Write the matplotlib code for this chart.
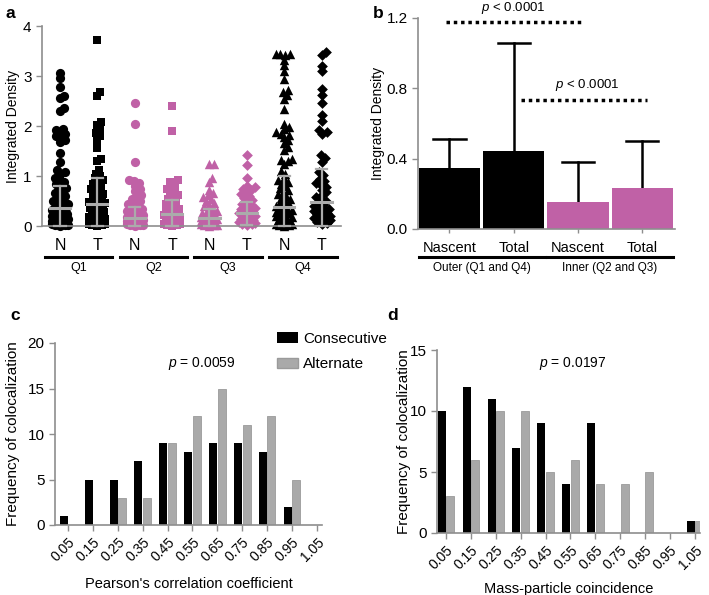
import numpy as np
import matplotlib.pyplot as plt
from matplotlib.patches import Patch
import matplotlib.transforms as mtransforms

plt.rcParams['font.family'] = ['Liberation Sans', 'DejaVu Sans']
plt.rcParams['mathtext.fontset'] = 'custom'
plt.rcParams['mathtext.it'] = 'Liberation Sans:italic'
plt.rcParams['mathtext.rm'] = 'Liberation Sans'

BLACK = '#000000'
PINK = '#C061A6'
LGREY = '#ABABAB'
AXC = '#8E8E8E'

# ---- panel a: integrated density per quadrant (N = nascent, T = total)
quadrants = ['Q1', 'Q2', 'Q3', 'Q4']
a_ticks = ['N', 'T', 'N', 'T', 'N', 'T', 'N', 'T']
q1_n = [3.07, 2.97, 2.78, 2.61, 2.56, 2.36, 2.31, 1.95, 1.92, 1.87, 1.84, 1.81, 1.78,
        1.72, 1.69, 1.47, 1.28, 1.12, 1.08, 1.05, 0.96, 0.93, 0.88, 0.84, 0.80, 0.77,
        0.73, 0.70, 0.66, 0.63, 0.60, 0.56, 0.53, 0.50, 0.47, 0.45, 0.42, 0.39, 0.37,
        0.34, 0.32, 0.29, 0.27, 0.25, 0.22, 0.20, 0.18, 0.16, 0.14, 0.12, 0.10, 0.09,
        0.07, 0.06, 0.05, 0.04, 0.03, 0.02, 0.02, 0.01]
q1_t = [3.73, 2.68, 2.60, 2.08, 2.02, 1.92, 1.86, 1.80, 1.73, 1.56, 1.35, 1.30, 1.12,
        1.05, 1.00, 0.96, 0.92, 0.88, 0.85, 0.81, 0.78, 0.74, 0.71, 0.67, 0.64, 0.61,
        0.58, 0.55, 0.52, 0.49, 0.46, 0.44, 0.41, 0.38, 0.36, 0.33, 0.31, 0.28, 0.26,
        0.24, 0.21, 0.19, 0.17, 0.15, 0.13, 0.11, 0.09, 0.08, 0.06, 0.05, 0.04, 0.03,
        0.02, 0.01]
q2_n = [2.45, 2.05, 1.28, 0.93, 0.90, 0.86, 0.80, 0.74, 0.70, 0.63, 0.58, 0.55, 0.50,
        0.47, 0.44, 0.40, 0.37, 0.35, 0.32, 0.30, 0.27, 0.25, 0.23, 0.21, 0.19, 0.17,
        0.15, 0.13, 0.12, 0.10, 0.09, 0.08, 0.06, 0.05, 0.04, 0.03, 0.02, 0.02, 0.01]
q2_t = [2.40, 1.90, 0.93, 0.88, 0.85, 0.78, 0.74, 0.70, 0.66, 0.62, 0.58, 0.54, 0.50,
        0.47, 0.44, 0.41, 0.38, 0.35, 0.32, 0.30, 0.27, 0.25, 0.23, 0.21, 0.19, 0.17,
        0.15, 0.13, 0.11, 0.10, 0.08, 0.07, 0.05, 0.04, 0.03, 0.02, 0.01]
q3_n = [1.25, 1.25, 0.96, 0.88, 0.72, 0.66, 0.62, 0.58, 0.54, 0.50, 0.46, 0.43, 0.40,
        0.37, 0.34, 0.31, 0.28, 0.26, 0.24, 0.22, 0.20, 0.18, 0.16, 0.14, 0.13, 0.11,
        0.10, 0.08, 0.07, 0.06, 0.05, 0.04, 0.03, 0.02, 0.02, 0.01]
q3_t = [1.43, 1.23, 0.97, 0.80, 0.78, 0.75, 0.72, 0.68, 0.64, 0.60, 0.56, 0.52, 0.48,
        0.45, 0.42, 0.39, 0.36, 0.34, 0.32, 0.30, 0.28, 0.26, 0.24, 0.22, 0.20, 0.18,
        0.16, 0.14, 0.12, 0.11, 0.10, 0.08, 0.07, 0.05, 0.04, 0.03]
q4_n = [3.45, 3.45, 3.44, 3.42, 3.33, 3.22, 3.10, 2.95, 2.72, 2.68, 2.62, 2.55, 2.35,
        2.05, 1.98, 1.94, 1.88, 1.85, 1.82, 1.78, 1.72, 1.66, 1.58, 1.52, 1.35, 1.32,
        1.30, 1.25, 1.10, 1.05, 0.96, 0.92, 0.88, 0.85, 0.80, 0.76, 0.72, 0.68, 0.64,
        0.60, 0.57, 0.54, 0.51, 0.48, 0.45, 0.42, 0.40, 0.37, 0.35, 0.32, 0.30, 0.28,
        0.26, 0.24, 0.22, 0.20, 0.18, 0.16, 0.14, 0.12, 0.11, 0.10, 0.08, 0.07, 0.05,
        0.04, 0.03, 0.02, 0.01]
q4_t = [3.48, 3.42, 3.20, 3.10, 2.75, 2.62, 2.45, 2.23, 2.10, 1.93, 1.88, 1.85, 1.42,
        1.36, 1.28, 1.08, 1.02, 0.95, 0.90, 0.86, 0.82, 0.78, 0.73, 0.68, 0.63, 0.58,
        0.54, 0.50, 0.46, 0.43, 0.40, 0.37, 0.35, 0.32, 0.30, 0.28, 0.26, 0.24, 0.22,
        0.20, 0.18, 0.16, 0.14, 0.12, 0.10, 0.08, 0.06, 0.04]
a_series = [q1_n, q1_t, q2_n, q2_t, q3_n, q3_t, q4_n, q4_t]
a_markers = ['o', 's', 'o', 's', '^', 'D', '^', 'D']
a_colors = [BLACK, BLACK, PINK, PINK, PINK, PINK, BLACK, BLACK]
a_means = [0.36, 0.45, 0.17, 0.25, 0.16, 0.26, 0.38, 0.48]
a_sd_top = [0.81, 0.96, 0.38, 0.53, 0.35, 0.49, 1.01, 1.15]

# ---- panel b: pooled means
b_ticks = ['Nascent', 'Total', 'Nascent', 'Total']
b_groups = ['Outer (Q1 and Q4)', 'Inner (Q2 and Q3)']
b_means = [0.347, 0.445, 0.155, 0.235]
b_err_top = [0.512, 1.06, 0.379, 0.502]
b_colors = [BLACK, BLACK, PINK, PINK]

# ---- panels c, d: histograms
bins = ['0.05', '0.15', '0.25', '0.35', '0.45', '0.55', '0.65', '0.75', '0.85', '0.95', '1.05']
c_consec = [1, 5, 5, 7, 9, 8, 9, 9, 8, 2, 0]
c_alt = [0, 0, 3, 3, 9, 12, 15, 11, 12, 5, 0]
d_consec = [10, 12, 11, 7, 9, 4, 9, 0, 0, 0, 1]
d_alt = [3, 6, 10, 10, 5, 6, 4, 4, 5, 0, 1]


def swarm(vals, xpx, ypx, d=4.6, maxw=8):
    # simple beeswarm: offsets in data units so markers don't pile up
    placed = []
    out_v, out_x = [], []
    cands = [0]
    for k in range(1, maxw + 1):
        cands += [k, -k]
    for v in sorted(vals):
        y = v * ypx
        best, bestd = None, -1
        for c in cands:
            md = min([np.hypot(c - px, y - py) for px, py in placed] or [99])
            if md >= d:
                best = c
                break
            if md > bestd:
                best, bestd = c, md
        placed.append((best, y))
        out_v.append(v)
        out_x.append(best / xpx)
    return out_v, out_x


def style(ax):
    for s in ['top', 'right']:
        ax.spines[s].set_visible(False)
    for s in ['left', 'bottom']:
        ax.spines[s].set_color(AXC)
        ax.spines[s].set_linewidth(1.2)
    ax.tick_params(colors=AXC, labelcolor='black', width=1.0, length=4)


def main():
    fig = plt.figure(figsize=(7.09, 5.95), dpi=100)
    W, H = 709, 595

    # panel a
    ax = fig.add_axes([42 / W, 1 - 226 / H, 299 / W, 200 / H])
    style(ax)
    ax.set_xlim(-0.48, 7.52)
    ax.set_ylim(0, 4)
    xpx = 299 / 8.0
    ypx = 200 / 4.0
    sizes = {'o': 44, 's': 36, '^': 46, 'D': 30}
    for i, vals in enumerate(a_series):
        v, off = swarm(vals, xpx, ypx)
        ax.scatter(i + np.array(off), v, marker=a_markers[i], color=a_colors[i],
                   s=sizes[a_markers[i]], linewidths=0, clip_on=False, zorder=2)
        m, top = a_means[i], a_sd_top[i]
        low = max(m - (top - m), 0)
        ax.plot([i - 0.27, i + 0.27], [m, m], color=LGREY, lw=2.2, zorder=3, clip_on=False)
        ax.plot([i, i], [low, top], color=LGREY, lw=1.6, zorder=3, clip_on=False)
        ax.plot([i - 0.15, i + 0.15], [top, top], color=LGREY, lw=1.6, zorder=3, clip_on=False)
        ax.plot([i - 0.15, i + 0.15], [low, low], color=LGREY, lw=1.6, zorder=3, clip_on=False)
    ax.set_yticks([0, 1, 2, 3, 4])
    ax.set_xticks(range(8))
    ax.set_xticklabels(a_ticks, fontsize=11.5)
    ax.tick_params(axis='y', labelsize=11)
    ax.tick_params(axis='x', length=0, pad=9)
    ax.set_ylabel('Integrated Density', fontsize=10)
    ax.yaxis.set_label_coords(-0.075, 0.5)
    tr = mtransforms.blended_transform_factory(ax.transData, ax.transAxes)
    for g, q in enumerate(quadrants):
        c = 2 * g + 0.5
        ax.plot([c - 0.9, c + 0.9], [-0.155, -0.155], color='black', lw=2.2,
                transform=tr, clip_on=False)
        ax.text(c, -0.21, q, transform=tr, ha='center', va='center', fontsize=9)

    # panel b
    bx = fig.add_axes([418 / W, 1 - 229 / H, 257 / W, 211 / H])
    style(bx)
    x = np.arange(4)
    bx.bar(x, b_means, width=0.95, color=b_colors, zorder=2)
    for i in range(4):
        bx.plot([i, i], [b_means[i], b_err_top[i]], color='black', lw=1.8, zorder=1)
        bx.plot([i - 0.25, i + 0.25], [b_err_top[i], b_err_top[i]], color='black', lw=1.8)
    bx.set_xlim(-0.49, 3.51)
    bx.set_ylim(0, 1.2)
    bx.set_yticks([0, 0.4, 0.8, 1.2])
    bx.set_yticklabels(['0.0', '0.4', '0.8', '1.2'])
    bx.tick_params(axis='y', labelsize=11)
    bx.set_xticks(x)
    bx.set_xticklabels(b_ticks, fontsize=10.5)
    bx.tick_params(axis='x', length=3, pad=6)
    bx.set_ylabel('Integrated Density', fontsize=10)
    bx.yaxis.set_label_coords(-0.13, 0.5)
    trb = mtransforms.blended_transform_factory(bx.transData, bx.transAxes)
    for g, name in enumerate(b_groups):
        c = 2 * g + 0.5
        bx.plot([c - 0.98, c + 0.98], [-0.133, -0.133], color='black', lw=2.2,
                transform=trb, clip_on=False)
        bx.text(c, -0.185, name, transform=trb, ha='center', va='center', fontsize=8.5)
    bx.plot([-0.05, 2.06], [1.175, 1.175], color='black', lw=2.5, ls=(0, (1, 1.1)),
            clip_on=False)
    bx.text(0.99, 1.255, '$p$ < 0.0001', ha='center', va='center', fontsize=9.5)
    bx.plot([1.11, 3.07], [0.733, 0.733], color='black', lw=2.5, ls=(0, (1, 1.1)))
    bx.text(2.14, 0.82, '$p$ < 0.0001', ha='center', va='center', fontsize=9.5)

    # panels c and d
    hist_specs = [
        ([55 / W, 1 - 525 / H, 267 / W, 182 / H], c_consec, c_alt, 20, [0, 5, 10, 15, 20],
         "Pearson's correlation coefficient", '$p$ = 0.0059', (5.38, 17.8), -0.52, -0.13, -0.285),
        ([437 / W, 1 - 533 / H, 263 / W, 183 / H], d_consec, d_alt, 15, [0, 5, 10, 15],
         'Mass-particle coincidence', '$p$ = 0.0197', (5.1, 13.9), -0.36, -0.10, -0.27),
    ]
    for rect, cons, alt, ymax, yt, xl, ptxt, ppos, xmin, ylc, xlc in hist_specs:
        hx = fig.add_axes(rect)
        style(hx)
        xi = np.arange(len(bins))
        hx.bar(xi - 0.17, cons, width=0.32, color='black', zorder=2)
        hx.bar(xi + 0.17, alt, width=0.32, color='#A9A9A9', edgecolor='#9A9A9A',
               linewidth=0.6, zorder=2)
        hx.set_xlim(xmin, 10.2)
        hx.set_ylim(0, ymax)
        hx.set_yticks(yt)
        hx.tick_params(axis='y', labelsize=11)
        hx.set_xticks(xi)
        hx.set_xticklabels(bins, rotation=45, ha='right', rotation_mode='anchor', fontsize=10)
        hx.tick_params(axis='x', length=4, pad=3)
        hx.set_xlabel(xl, fontsize=10.5)
        hx.xaxis.set_label_coords(0.5, xlc)
        hx.set_ylabel('Frequency of colocalization', fontsize=11)
        hx.yaxis.set_label_coords(ylc, 0.5)
        hx.text(ppos[0], ppos[1], ptxt, ha='center', va='center', fontsize=10)

    handles = [Patch(facecolor='black', label='Consecutive'),
               Patch(facecolor='#A9A9A9', edgecolor='#9A9A9A', label='Alternate')]
    fig.legend(handles=handles, loc='upper left', bbox_to_anchor=(277 / W, 1 - 332 / H),
               frameon=False, fontsize=11, handlelength=1.4, handleheight=0.7,
               handletextpad=0.3, labelspacing=0.75, borderpad=0, borderaxespad=0)

    for lab, (px, py) in zip('abcd', [(10, 13), (378, 13), (15, 315), (393, 315)]):
        fig.text(px / W, 1 - py / H, lab, fontsize=12.5, fontweight='bold',
                 ha='center', va='center')

    fig.savefig('out.png', dpi=100)


if __name__ == "__main__":
    main()
